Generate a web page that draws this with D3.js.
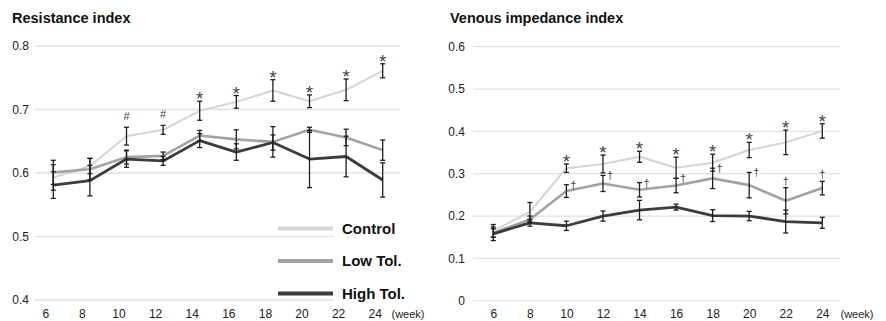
<!DOCTYPE html>
<html>
<head>
<meta charset="utf-8">
<script src="https://cdn.jsdelivr.net/npm/d3@7"></script>
<style>
  body { margin: 0; background: #fff; }
  svg { font-family: "Liberation Sans", Arial, Helvetica, sans-serif; }
</style>
</head>
<body>
<div id="cntr"></div>
<script>
const width = 886, height = 321;

const weeks = [6, 8, 10, 12, 14, 16, 18, 20, 22, 24];
const groups = ["Control", "Low Tol.", "High Tol."];

// Resistance index (mean, error)
const riControl = [0.593, 0.611, 0.658, 0.668, 0.698, 0.712, 0.730, 0.713, 0.731, 0.761];
const riControlErr = [0.020, 0.012, 0.014, 0.007, 0.015, 0.010, 0.017, 0.010, 0.017, 0.011];
const riLow = [0.601, 0.606, 0.625, 0.627, 0.659, 0.653, 0.649, 0.668, 0.656, 0.636];
const riLowErr = [0.019, 0.017, 0.011, 0.006, 0.008, 0.015, 0.024, 0.004, 0.013, 0.016];
const riHigh = [0.581, 0.588, 0.622, 0.619, 0.651, 0.633, 0.648, 0.622, 0.626, 0.589];
const riHighErr = [0.021, 0.024, 0.013, 0.007, 0.011, 0.013, 0.012, 0.045, 0.032, 0.027];
const riMarks = ["", "", "#", "#", "*", "*", "*", "*", "*", "*"];
const riTicks = [0.4, 0.5, 0.6, 0.7, 0.8];

// Venous impedance index (mean, error)
const viControl = [0.165, 0.210, 0.313, 0.323, 0.340, 0.314, 0.326, 0.356, 0.374, 0.401];
const viControlErr = [0.015, 0.022, 0.010, 0.021, 0.013, 0.025, 0.020, 0.018, 0.029, 0.017];
const viLow = [0.160, 0.192, 0.259, 0.277, 0.262, 0.272, 0.289, 0.273, 0.236, 0.266];
const viLowErr = [0.010, 0.008, 0.015, 0.019, 0.017, 0.017, 0.024, 0.030, 0.031, 0.016];
const viHigh = [0.158, 0.184, 0.177, 0.200, 0.214, 0.221, 0.201, 0.200, 0.187, 0.184];
const viHighErr = [0.016, 0.008, 0.011, 0.012, 0.023, 0.007, 0.014, 0.011, 0.027, 0.013];
const viMarks = ["", "", "*", "*", "*", "*", "*", "*", "*", "*"];
const viDaggers = ["", "", "r", "r", "r", "r", "r", "r", "t", "t"];
const viTicks = [0, 0.1, 0.2, 0.3, 0.4, 0.5, 0.6];

const colors = ["#d4d4d4", "#a2a2a2", "#3c3c3c"];
const strokes = [2, 2.6, 2.8];

const svg = d3.select("#cntr")
    .append("svg")
    .attr("width", width)
    .attr("height", height);

function panel(p) {
    const g = svg.append("g");

    const x = d3.scalePoint().domain(weeks).range(p.xRange);
    const y = d3.scaleLinear().domain(p.yDomain).range(p.yRange);

    g.append("text")
        .attr("x", p.titleX).attr("y", 23)
        .style("font", "bold 14.5px 'Liberation Sans', Arial, sans-serif")
        .style("fill", "#111")
        .text(p.title);

    // gridlines
    g.selectAll("line.grid")
        .data(p.ticks)
        .join("line")
            .attr("class", "grid")
            .attr("x1", p.gridX[0]).attr("x2", p.gridX[1])
            .attr("y1", d => y(d)).attr("y2", d => y(d))
            .style("stroke", "#e2e2e2")
            .style("stroke-width", 1.3);

    // y axis labels
    const ya = g.append("g")
        .attr("transform", "translate(" + p.gridX[0] + ",0)")
        .call(d3.axisLeft(y).tickValues(p.ticks).tickSize(0).tickPadding(p.yPad)
            .tickFormat(d => d === 0 ? "0" : d3.format(".1f")(d)));
    ya.select(".domain").remove();
    ya.selectAll("text").style("font-size", "12px").style("fill", "#222")
        .style("font-family", "'Liberation Sans', Arial, sans-serif");

    // x axis labels
    const xa = g.append("g")
        .attr("transform", "translate(" + p.xShift + ",306)")
        .call(d3.axisBottom(x).tickSize(0).tickPadding(3));
    xa.select(".domain").remove();
    xa.selectAll("text").style("font-size", "12px").style("fill", "#222")
        .style("font-family", "'Liberation Sans', Arial, sans-serif");

    g.append("text")
        .attr("x", p.weekX).attr("y", 318)
        .style("font-size", "11px").style("fill", "#222")
        .attr("text-anchor", "middle")
        .text("(week)");

    // series lines
    const line = d3.line().x((d, i) => x(weeks[i])).y(d => y(d));
    p.series.forEach((s, k) => {
        g.append("path")
            .datum(s)
            .attr("d", line)
            .style("fill", "none")
            .style("stroke", colors[k])
            .style("stroke-width", strokes[k])
            .style("stroke-linejoin", "round");
    });

    // error bars
    p.series.forEach((s, k) => {
        const eb = g.append("g").selectAll("g")
            .data(s.map((v, i) => ({ w: weeks[i], v: v, e: p.errors[k][i] })))
            .join("g")
                .style("stroke", "#1e1e1e")
                .style("stroke-width", 1.3);
        eb.append("line")
            .attr("x1", d => x(d.w)).attr("x2", d => x(d.w))
            .attr("y1", d => y(d.v + d.e)).attr("y2", d => y(d.v - d.e));
        eb.append("line")
            .attr("x1", d => x(d.w) - 2.5).attr("x2", d => x(d.w) + 2.5)
            .attr("y1", d => y(d.v + d.e)).attr("y2", d => y(d.v + d.e));
        eb.append("line")
            .attr("x1", d => x(d.w) - 2.5).attr("x2", d => x(d.w) + 2.5)
            .attr("y1", d => y(d.v - d.e)).attr("y2", d => y(d.v - d.e));
    });

    // significance marks above control
    g.append("g").selectAll("text")
        .data(p.marks.map((m, i) => ({ m: m, w: weeks[i], top: p.series[0][i] + p.errors[0][i] })))
        .join("text")
            .attr("x", d => x(d.w))
            .attr("y", d => y(d.top) + (d.m === "#" ? -7 : 4))
            .attr("text-anchor", "middle")
            .style("font-size", d => d.m === "#" ? "11px" : "19px")
            .style("fill", "#444")
            .text(d => d.m);

    if (p.daggers) {
        g.append("g").selectAll("text")
            .data(p.daggers.map((m, i) => ({ m: m, w: weeks[i], top: p.series[1][i] + p.errors[1][i] })))
            .join("text")
                .attr("x", d => x(d.w) + (d.m === "r" ? 7 : 0))
                .attr("y", d => y(d.top) + (d.m === "r" ? 4 : -3))
                .attr("text-anchor", "middle")
                .style("font-size", "11px")
                .style("fill", "#444")
                .text(d => d.m ? "\u2020" : "");
    }
    return g;
}

panel({
    title: "Resistance index", titleX: 12,
    xRange: [53.3, 382.7], xShift: -8,
    yDomain: [0.4, 0.8], yRange: [300, 46],
    gridX: [35, 400], yPad: 6, ticks: riTicks, weekX: 408,
    series: [riControl, riLow, riHigh],
    errors: [riControlErr, riLowErr, riHighErr],
    marks: riMarks
});

panel({
    title: "Venous impedance index", titleX: 450,
    xRange: [493.3, 822.3], xShift: 0,
    yDomain: [0, 0.6], yRange: [300.7, 46.7],
    gridX: [473, 840], yPad: 8, ticks: viTicks, weekX: 857,
    series: [viControl, viLow, viHigh],
    errors: [viControlErr, viLowErr, viHighErr],
    marks: viMarks, daggers: viDaggers
});

// legend
const legend = svg.append("g");
legend.append("rect")
    .attr("x", 334).attr("y", 212).attr("width", 70).attr("height", 93)
    .style("fill", "#fff");
const ly = d3.scalePoint().domain(groups).range([228.5, 293.5]);
groups.forEach((name, k) => {
    legend.append("line")
        .attr("x1", 278).attr("x2", 333)
        .attr("y1", ly(name)).attr("y2", ly(name))
        .style("stroke", colors[k])
        .style("stroke-width", 4);
    legend.append("text")
        .attr("x", 342).attr("y", ly(name))
        .attr("dy", "0.36em")
        .style("font", "bold 15px 'Liberation Sans', Arial, sans-serif")
        .style("fill", "#111")
        .text(name);
});
</script>
</body>
</html>
